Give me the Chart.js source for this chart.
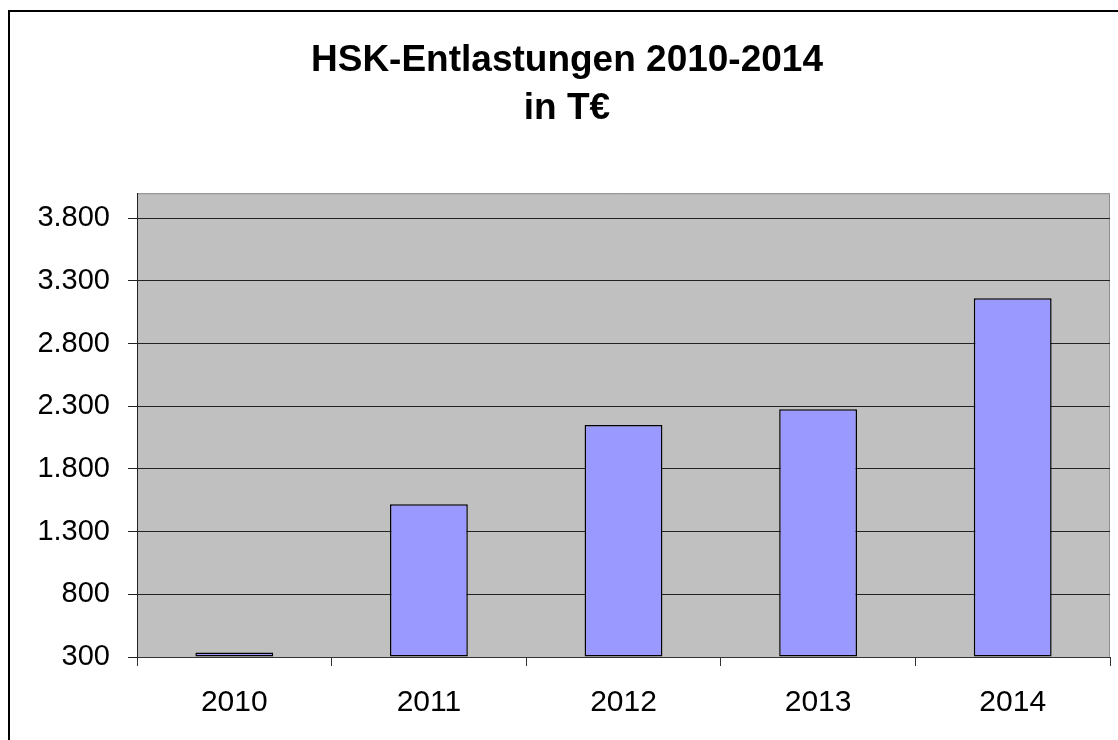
<!DOCTYPE html>
<html lang="de">
<head>
<meta charset="utf-8">
<script src="https://cdn.jsdelivr.net/npm/chart.js@4.4.1/dist/chart.umd.min.js"></script>
<style>
    html, body { margin: 0; padding: 0; background: #fff; overflow: hidden; }
    #frame { position: absolute; left: 8px; top: 10px; width: 1200px; height: 800px; border: 2px solid #000; }
    #wrap { position: absolute; left: 0; top: 0; width: 1118px; height: 740px; }
</style>
</head>
<body>
<div id="frame"></div>
<div id="wrap"><canvas id="mainChart"></canvas></div>
<script>
// --- DATOS ---
const years = ['2010', '2011', '2012', '2013', '2014'];
const entlastungen = [335, 1518, 2151, 2277, 3161];
const yTicks = [300, 800, 1300, 1800, 2300, 2800, 3300, 3800];
const yMin = 300;
const yMax = 4000;
const titleLines = ['HSK-Entlastungen 2010-2014', 'in T€'];

const fontFamily = '"Liberation Sans", Arial, sans-serif';

// 3800 -> "3.800"
const formatDE = (v) => String(v).replace(/\B(?=(\d{3})+(?!\d))/g, '.');

// fondo gris del área + borde superior/derecho
const plotBg = {
    id: 'plotBg',
    beforeDraw(chart) {
        const { ctx, chartArea: a } = chart;
        ctx.save();
        ctx.fillStyle = '#C0C0C0';
        ctx.fillRect(a.left, a.top, a.right - a.left, a.bottom - a.top);
        ctx.strokeStyle = '#8c8c8c';
        ctx.lineWidth = 1;
        ctx.beginPath();
        ctx.moveTo(a.left, a.top + 0.5);
        ctx.lineTo(a.right - 0.5, a.top + 0.5);
        ctx.lineTo(a.right - 0.5, a.bottom);
        ctx.stroke();
        ctx.restore();
    }
};

const ctx = document.getElementById('mainChart').getContext('2d');
const mainChart = new Chart(ctx, {
    type: 'bar',
    data: {
        labels: years,
        datasets: [{
            data: entlastungen,
            base: yMin,
            backgroundColor: '#9999FF',
            borderColor: '#000',
            borderWidth: 1.5,
            borderSkipped: false,
            barPercentage: 0.4,
            categoryPercentage: 1
        }]
    },
    options: {
        responsive: true,
        maintainAspectRatio: false,
        animation: false,
        layout: { padding: { left: 24, right: 8, top: 0, bottom: 0 } },
        plugins: {
            legend: { display: false },
            tooltip: { enabled: false },
            title: {
                display: true,
                text: titleLines,
                color: '#000',
                font: { family: fontFamily, size: 37, weight: 'bold', lineHeight: 1.3 },
                padding: { top: 37, bottom: 60 }
            }
        },
        scales: {
            x: {
                afterFit: (s) => { s.height = 83; },
                grid: { drawOnChartArea: false, drawTicks: true, tickLength: 9, color: '#333', offset: true },
                border: { color: '#333', width: 1 },
                ticks: { color: '#000', padding: 19, font: { family: fontFamily, size: 30 } }
            },
            y: {
                min: yMin,
                max: yMax,
                afterFit: (s) => { s.width = 113; },
                afterBuildTicks: (s) => { s.ticks = yTicks.map(v => ({ value: v })); },
                grid: { color: '#222', lineWidth: 1, tickLength: 9 },
                border: { color: '#222', width: 1 },
                ticks: {
                    color: '#000',
                    padding: 18,
                    font: { family: fontFamily, size: 29 },
                    callback: (v) => formatDE(v)
                }
            }
        }
    },
    plugins: [plotBg]
});
</script>
</body>
</html>
